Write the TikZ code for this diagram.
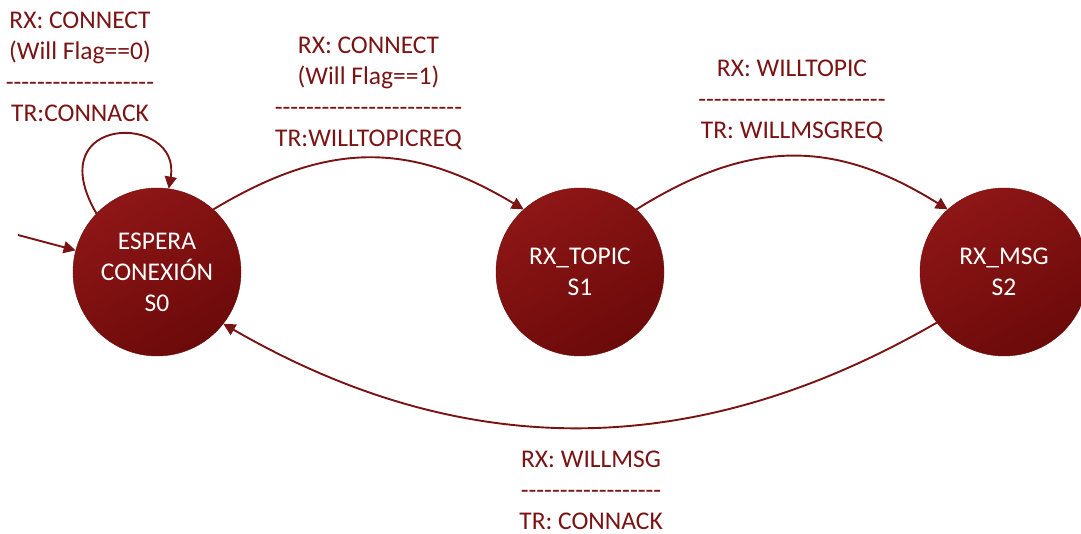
\documentclass[tikz,border=0pt]{standalone}
\usepackage{fontspec}
\setmainfont{Carlito}[Ligatures=TeXOff]
\usetikzlibrary{arrows.meta}
\definecolor{wineline}{RGB}{122,20,20}
\definecolor{winelight}{RGB}{142,22,22}
\definecolor{winedark}{RGB}{108,10,10}

\begin{document}
\begin{tikzpicture}[x=1pt,y=1pt,
    font=\fontsize{25.5}{31}\selectfont,
    statenode/.style={circle, minimum size=168pt, inner sep=0pt, align=center, text=white,
        draw=winedark, thin, shading=axis, top color=winelight, bottom color=winedark, shading angle=30},
    arrowline/.style={draw=wineline, line width=1.9pt, -{Triangle[width=12pt,length=12pt]}},
    edgelabel/.style={text=wineline, align=center},
]
    \useasboundingbox (0,0) rectangle (1081,533);

    %Nodes
    \node[statenode] (s0) at (157,261) {ESPERA\\CONEXIÓN\\S0};
    \node[statenode] (s1) at (580,261) {RX\_TOPIC\\S1};
    \node[statenode] (s2) at (1004,261) {RX\_MSG\\S2};
    \coordinate (start) at (18,298);

    %Lines
    \draw[arrowline] (start) -- (s0);
    \draw[arrowline] (s0.136) .. controls (38,420) and (182,420) .. (s0.82);
    \node[edgelabel] (loop0) at (80,466.5) {RX: CONNECT\\(Will Flag==0)\\-------------------\\TR:CONNACK};
    \draw[arrowline] (s0.48) to[out=31,in=149,looseness=1.1] node[edgelabel,above=4pt,pos=0.5]{RX: CONNECT\\(Will Flag==1)\\------------------------\\TR:WILLTOPICREQ} (s1.132);
    \draw[arrowline] (s1.48) to[out=32,in=148,looseness=1.1] node[edgelabel,above=10pt,pos=0.5]{RX: WILLTOPIC\\------------------------\\TR: WILLMSGREQ} (s2.132);
    \draw[arrowline] (s2.217) to[out=210,in=-30] node[edgelabel,inner sep=1pt,below=21pt,pos=0.5,xshift=11pt]{RX: WILLMSG\\------------------\\TR: CONNACK} (s0.322);
\end{tikzpicture}
\end{document}
